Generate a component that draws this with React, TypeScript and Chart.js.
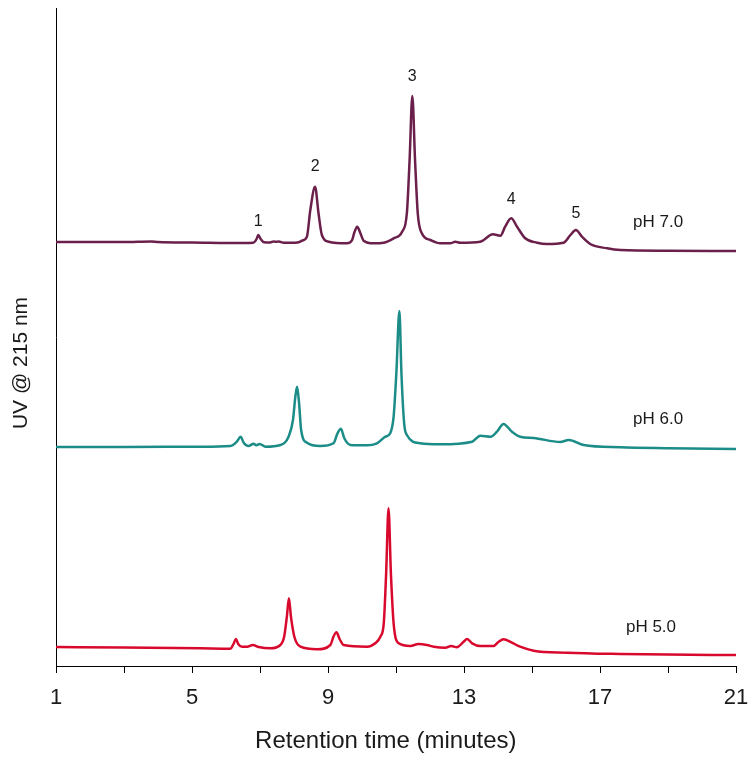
import React, { useEffect, useRef } from "react";
import { Chart, registerables } from "chart.js";

Chart.register(...registerables);

// ---- Data (retention time in minutes, detector signal above each trace's baseline) ----
const times70 = [1.0, 3.0, 3.8, 4.0, 5.0, 6.5, 6.8, 6.9, 6.95, 7.02, 7.12, 7.3, 7.4, 7.47, 7.55, 7.7, 8.1, 8.25, 8.38, 8.48, 8.62, 8.72, 8.82, 9.02, 9.56, 9.71, 9.77, 9.86, 9.95, 10.05, 10.34, 10.64, 10.93, 11.18, 11.32, 11.4, 11.48, 11.56, 11.64, 11.76, 12.01, 12.3, 12.6, 12.74, 12.89, 13.48, 13.85, 14.07, 14.21, 14.39, 14.56, 14.8, 15.15, 15.44, 15.93, 16.13, 16.29, 16.47, 16.71, 17.21, 17.6, 19.0, 21.0];
const signal70 = [0, 0, 0.6, 0, -0.5, -1, -0.8, 3, 7, 3, -0.3, -0.5, 0.6, 0.2, 0.6, -0.8, -0.5, 1.5, 5.3, 32, 55.3, 29, 7, 0.3, -1.3, 2, 9, 15.3, 9, 1.3, -1.3, -0.7, 3.7, 10.3, 29, 82, 146, 82, 28.7, 8.7, 2, -1.3, -1.3, 0.3, -0.7, 0.3, 7.7, 6.3, 15.3, 23.7, 15.3, 3.7, -0.7, -2, -0.7, 7, 12, 5.3, -2, -6.3, -8, -8.7, -9];

const times60 = [1.0, 3.0, 5.25, 6.13, 6.32, 6.43, 6.52, 6.66, 6.81, 6.89, 6.99, 7.16, 7.6, 7.84, 7.97, 8.04, 8.09, 8.15, 8.21, 8.38, 8.77, 9.16, 9.28, 9.38, 9.48, 9.66, 10.15, 10.44, 10.69, 10.83, 10.93, 11.01, 11.1, 11.16, 11.24, 11.32, 11.71, 12.3, 13.24, 13.48, 13.78, 13.97, 14.16, 14.41, 14.65, 15.05, 15.83, 16.08, 16.52, 17.6, 19.0, 21.0];
const signal60 = [0, 0, 0.3, 1, 5.3, 10.3, 4.3, 1, 3.3, 1.7, 3, 0.3, 2, 10.3, 27, 50.3, 60.3, 43.7, 17, 4.3, 1, 3.7, 13.7, 18.3, 8.7, 2, 1.7, 3.7, 10.3, 13.7, 30.3, 73.7, 136, 73.7, 23.7, 12, 3.7, 2.7, 5.3, 11.3, 10.3, 15.3, 23, 15.3, 10.3, 9, 5, 7, 2, -0.3, -1.2, -2];

const times50 = [1.0, 3.0, 5.25, 6.13, 6.22, 6.29, 6.36, 6.47, 6.62, 6.79, 6.96, 7.3, 7.6, 7.71, 7.79, 7.85, 7.91, 8.01, 8.19, 8.68, 9.07, 9.16, 9.25, 9.34, 9.46, 10.15, 10.39, 10.54, 10.64, 10.71, 10.78, 10.85, 10.93, 11.08, 11.42, 11.66, 11.91, 12.11, 12.45, 12.62, 12.79, 12.99, 13.09, 13.24, 13.48, 13.87, 14.02, 14.16, 14.41, 14.65, 15.05, 16.03, 17.6, 19.0, 21.0];
const signal50 = [0, -0.5, -1.3, -1.7, 3, 8, 3, 0.3, 0.3, 2, 0, -1.3, 2, 10.3, 30.3, 48.7, 30.3, 10.3, 0.3, -2.3, 2, 10.3, 14.7, 8, 2, 0.3, 3.7, 10.3, 23.7, 73.7, 138.7, 73.7, 23.7, 3.7, 1, 3, 2, 0.3, -0.7, 1, -0.3, 5.3, 8, 3.7, 1, 1, 5.3, 7.7, 4.3, 0.3, -3.7, -5.7, -7, -7.6, -8];

// vertical stacking offsets of the three traces
const traceNames = ["pH 7.0", "pH 6.0", "pH 5.0"];
const traceOffsets = [424, 219, 19];
const traceColors = ["#6B1F4B", "#1B8C87", "#D8092D"];
const traceLabelTimes = [18.71, 18.71, 18.5];
const traceLabelValues = [444, 247, 39];

// numbered peaks on the pH 7.0 trace
const peakNumbers = ["1", "2", "3", "4", "5"];
const peakLabelTimes = [6.95, 8.62, 11.48, 14.39, 16.29];
const peakLabelValues = [444, 499, 589, 466, 452];

const xTickValues = [1, 5, 9, 13, 17, 21];
const xTitle = "Retention time (minutes)";
const yTitle = "UV @ 215 nm";

const FONT = '"Liberation Sans", Arial, Helvetica, sans-serif';

function toPoints(times: number[], signal: number[], offset: number) {
  return times.map((t, i) => ({ x: t, y: offset + signal[i] }));
}

const labelsPlugin = {
  id: "chromLabels",
  afterDatasetsDraw(chart: any) {
    const { ctx, scales, chartArea } = chart;
    const xs = scales.x;
    const ys = scales.y;
    ctx.save();
    ctx.fillStyle = "#1a1a1a";
    ctx.textAlign = "center";
    ctx.textBaseline = "middle";
    ctx.font = `16px ${FONT}`;
    peakNumbers.forEach((n, i) => {
      ctx.fillText(n, xs.getPixelForValue(peakLabelTimes[i]), ys.getPixelForValue(peakLabelValues[i]));
    });
    ctx.font = `17px ${FONT}`;
    traceNames.forEach((n, i) => {
      ctx.fillText(n, xs.getPixelForValue(traceLabelTimes[i]), ys.getPixelForValue(traceLabelValues[i]));
    });
    // x-axis title
    ctx.font = `24px ${FONT}`;
    ctx.fillText(xTitle, xs.getPixelForValue(10.7), chartArea.bottom + 75);
    // y-axis title
    ctx.font = `21px ${FONT}`;
    ctx.translate(chartArea.left - 35, ys.getPixelForValue(303));
    ctx.rotate(-Math.PI / 2);
    ctx.fillText(yTitle, 0, 0);
    ctx.restore();
  },
};

export default function App() {
  const canvasRef = useRef<HTMLCanvasElement | null>(null);

  useEffect(() => {
    document.body.style.margin = "0";
    const canvas = canvasRef.current;
    if (!canvas) return;
    const datasets = [
      toPoints(times70, signal70, traceOffsets[0]),
      toPoints(times60, signal60, traceOffsets[1]),
      toPoints(times50, signal50, traceOffsets[2]),
    ].map((pts, i) => ({
      label: traceNames[i],
      data: pts,
      borderColor: traceColors[i],
      borderWidth: 2.5,
      pointRadius: 0,
      fill: false,
      cubicInterpolationMode: "monotone" as const,
    }));

    const chart = new Chart(canvas, {
      type: "line",
      data: { datasets },
      plugins: [labelsPlugin],
      options: {
        animation: false,
        responsive: false,
        devicePixelRatio: 1,
        layout: { padding: { left: 0, right: 12, top: 8, bottom: 0 } },
        plugins: { legend: { display: false }, tooltip: { enabled: false } },
        scales: {
          x: {
            type: "linear",
            min: 1,
            max: 21,
            afterFit: (s: any) => {
              s.height = 91;
              s.paddingLeft = 0;
              s.paddingRight = 12;
            },
            afterBuildTicks: (s: any) => {
              const t: any[] = [];
              for (let v = 1; v <= 21; v += 2) t.push({ value: v });
              s.ticks = t;
            },
            ticks: {
              autoSkip: false,
              maxRotation: 0,
              padding: 12,
              color: "#1a1a1a",
              font: { family: FONT, size: 22 },
              callback: (v: any) => (xTickValues.includes(Number(v)) ? String(v) : ""),
            },
            grid: {
              display: true,
              drawOnChartArea: false,
              drawTicks: true,
              tickLength: 7,
              color: "#000",
              lineWidth: 1,
            },
            border: { display: true, color: "#000", width: 1 },
            title: { display: false },
          },
          y: {
            type: "linear",
            min: 0,
            max: 658,
            afterFit: (s: any) => {
              s.width = 56;
            },
            ticks: { display: false },
            grid: { display: false, drawTicks: false },
            border: { display: true, color: "#000", width: 1 },
          },
        },
      },
    });
    return () => chart.destroy();
  }, []);

  return (
    <div style={{ position: "fixed", left: 0, top: 0, width: 748, height: 757, background: "#fff" }}>
      <canvas ref={canvasRef} width={748} height={757} />
    </div>
  );
}
